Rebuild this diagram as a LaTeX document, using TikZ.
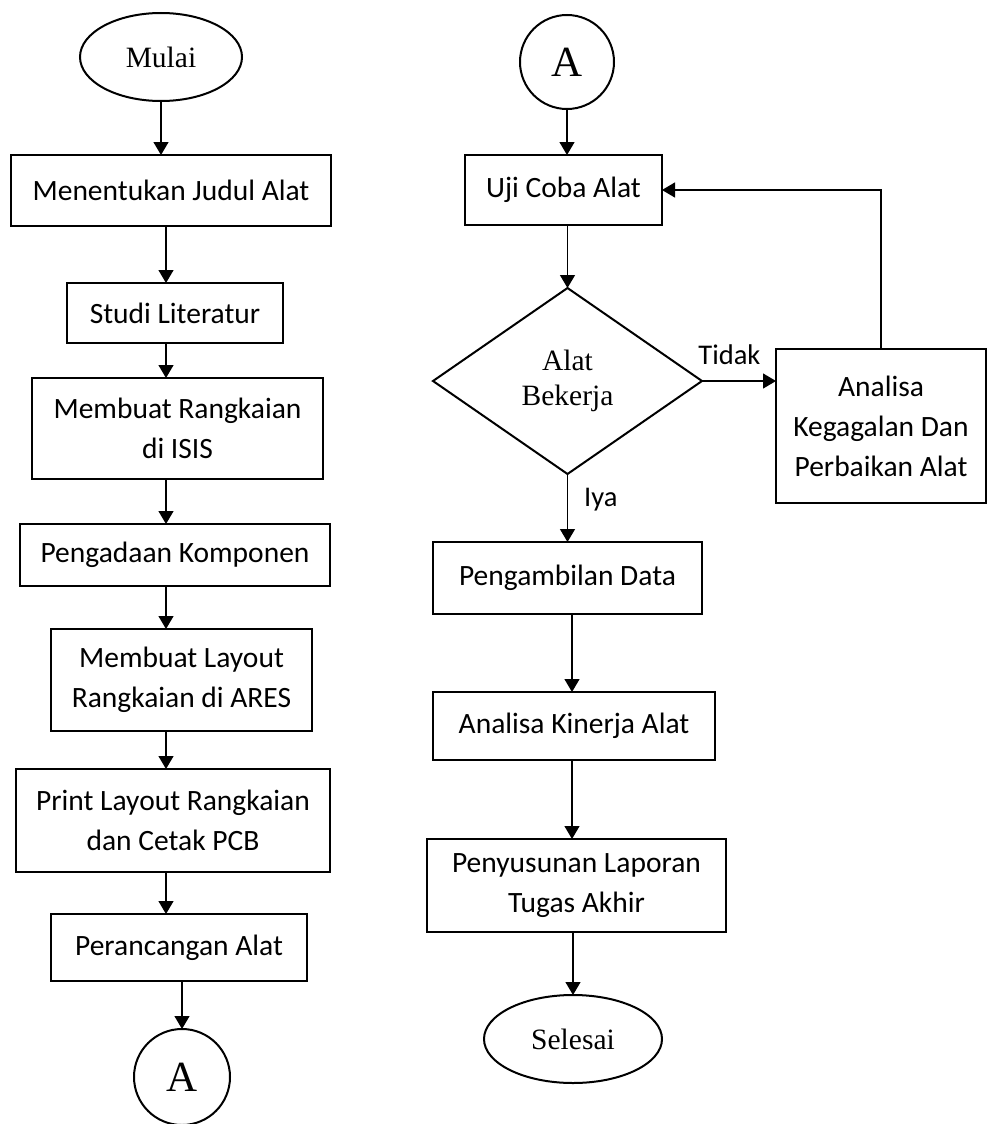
\documentclass[tikz,border=0pt]{standalone}
\usepackage{fontspec}
\newfontfamily\hurufkotak{Carlito}
\newfontfamily\hurufujung{Liberation Serif}
\usetikzlibrary{positioning,shapes.geometric,arrows.meta}

\tikzset{
	proses/.style={draw, rectangle, line width=2.6pt, outer sep=0pt, inner sep=0pt, align=center, font=\hurufkotak\fontsize{29.5}{40}\selectfont},
	terminal/.style={draw, ellipse, line width=2pt, outer sep=0pt, inner sep=0pt, font=\hurufujung\fontsize{29.5}{35}\selectfont},
	keputusan/.style={draw, diamond, aspect=1.45, line width=2pt, outer sep=0pt, inner sep=0pt, align=center, font=\hurufujung\fontsize{29.5}{35}\selectfont},
	konektor/.style={draw, circle, line width=2pt, outer sep=0pt, inner sep=0pt, font=\hurufujung\fontsize{43}{43}\selectfont},
	alur/.style={line width=1.3pt, -{Triangle[length=13pt,width=15pt]}},
	ket/.style={inner sep=2pt, font=\hurufkotak\fontsize{28.5}{34}\selectfont}
}

\begin{document}
\begin{tikzpicture}[x=1pt, y=-1pt]
	\useasboundingbox (0,0) rectangle (989,1124);

	\node[terminal, minimum width=162pt, minimum height=88pt] (mulai) at (161,57) {Mulai};
	\node[proses, minimum width=320pt, minimum height=71pt, below=54pt of mulai, xshift=10pt] (judul) {Menentukan Judul Alat};
	\node[proses, minimum width=216pt, minimum height=60pt, below=57pt of judul, xshift=4pt] (studi) {Studi Literatur};
	\node[proses, minimum width=291pt, minimum height=101pt, below=35pt of studi, xshift=2.5pt] (isis) {Membuat Rangkaian\\di ISIS};
	\node[proses, minimum width=310pt, minimum height=62pt, below=45pt of isis, xshift=-2.5pt] (komponen) {Pengadaan Komponen};
	\node[proses, minimum width=261pt, minimum height=102pt, below=43pt of komponen, xshift=6.5pt] (ares) {Membuat Layout\\Rangkaian di ARES};
	\node[proses, minimum width=314pt, minimum height=103pt, below=38pt of ares, xshift=-8.5pt] (pcb) {Print Layout Rangkaian\\dan Cetak PCB};
	\node[proses, minimum width=256pt, minimum height=67pt, below=42pt of pcb, xshift=6pt] (rancang) {Perancangan Alat};
	\node[konektor, minimum size=96pt, below=48pt of rancang, xshift=3pt] (konA) {A};

	\node[konektor, minimum size=94pt] (konB) at (567,62) {A};
	\node[proses, minimum width=197pt, minimum height=70pt, below=46pt of konB, xshift=-3.5pt] (uji) {Uji Coba Alat};
	\node[keputusan, minimum width=269pt, minimum height=186pt, below=63pt of uji, xshift=4pt] (cek) {Alat\\Bekerja};
	\node[proses, minimum width=210pt, minimum height=154pt, right=74pt of cek, yshift=-45pt] (gagal) {Analisa\\Kegagalan Dan\\Perbaikan Alat};
	\node[proses, minimum width=269pt, minimum height=72pt, below=68pt of cek] (data) {Pengambilan Data};
	\node[proses, minimum width=282pt, minimum height=68pt, below=78pt of data, xshift=6.5pt] (kinerja) {Analisa Kinerja Alat};
	\node[proses, minimum width=299pt, minimum height=93pt, below=79pt of kinerja, xshift=2.5pt] (laporan) {Penyusunan Laporan\\Tugas Akhir};
	\node[terminal, minimum width=178pt, minimum height=88pt, below=63pt of laporan, xshift=-3.5pt] (selesai) {Selesai};

	\coordinate (jalurL) at (166,0);
	\coordinate (jalurR) at (572,0);

	\draw[alur] (mulai.south) -- (mulai.south |- judul.north);
	\draw[alur] (judul.south -| jalurL) -- (studi.north -| jalurL);
	\draw[alur] (studi.south -| jalurL) -- (isis.north -| jalurL);
	\draw[alur] (isis.south -| jalurL) -- (komponen.north -| jalurL);
	\draw[alur] (komponen.south -| jalurL) -- (ares.north -| jalurL);
	\draw[alur] (ares.south -| jalurL) -- (pcb.north -| jalurL);
	\draw[alur] (pcb.south -| jalurL) -- (rancang.north -| jalurL);
	\draw[alur] (rancang.south -| konA.north) -- (konA.north);

	\draw[alur] (konB.south) -- (konB.south |- uji.north);
	\draw[alur] (uji.south -| cek.north) -- (cek.north);
	\draw[alur] (cek.east) -- (cek.east -| gagal.west) node[ket, pos=0.37, above=14pt] {Tidak};
	\draw[alur] (gagal.north) |- (uji.east);
	\draw[alur] (cek.south) -- (cek.south |- data.north) node[ket, pos=0.38, right=14pt] {Iya};
	\draw[alur] (data.south -| jalurR) -- (kinerja.north -| jalurR);
	\draw[alur] (kinerja.south -| jalurR) -- (laporan.north -| jalurR);
	\draw[alur] (laporan.south -| selesai.north) -- (selesai.north);
\end{tikzpicture}
\end{document}
